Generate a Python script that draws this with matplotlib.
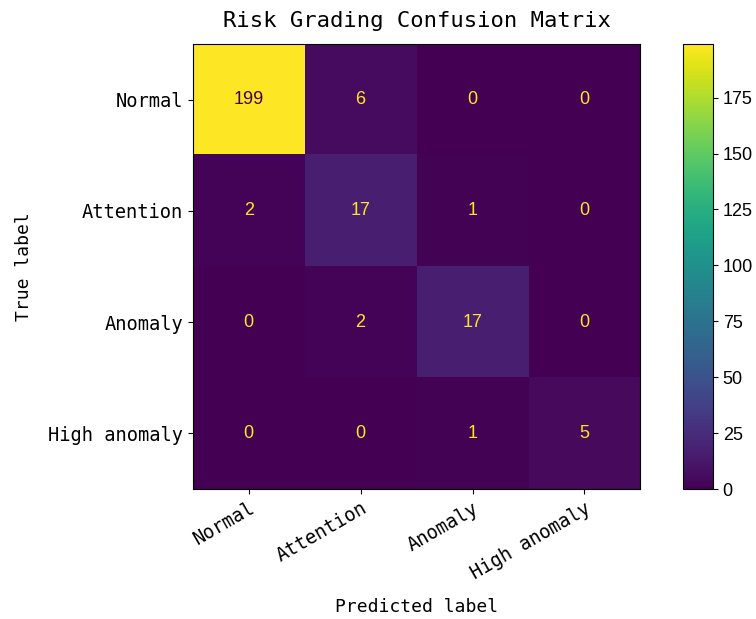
import numpy as np
import matplotlib.pyplot as plt

classes = ["Normal", "Attention", "Anomaly", "High anomaly"]
cm = np.array([
    [199, 6, 0, 0],
    [2, 17, 1, 0],
    [0, 2, 17, 0],
    [0, 0, 1, 5],
])
cbar_ticks = [0, 25, 50, 75, 100, 125, 150, 175]

mono = ["DejaVu Sans Mono"]
cmap = plt.get_cmap("viridis")

fig = plt.figure(figsize=(7.56, 6.19), dpi=100)
ax = fig.add_axes([0.255, 0.210, 0.592, 0.719])
cax = fig.add_axes([0.903, 0.210, 0.040, 0.719])

im = ax.imshow(cm, cmap=cmap, interpolation="nearest", aspect="auto")
cb = fig.colorbar(im, cax=cax)
cb.set_ticks(cbar_ticks)
cb.ax.set_yticklabels([str(t) for t in cbar_ticks], fontsize=13,
                      family="Liberation Sans")

# sklearn-style text colours: dark on bright cells, bright on dark cells
thresh = (cm.max() + cm.min()) / 2.0
for i in range(cm.shape[0]):
    for j in range(cm.shape[1]):
        color = cmap(0) if cm[i, j] > thresh else cmap(256)
        ax.text(j, i, str(cm[i, j]), ha="center", va="center",
                color=color, fontsize=13, family="Liberation Sans")

ax.set_xticks(range(len(classes)))
ax.set_yticks(range(len(classes)))
ax.set_xticklabels(classes, rotation=30, ha="right", rotation_mode="anchor",
                   fontsize=13.5, family=mono)
ax.set_yticklabels(classes, fontsize=13.5, family=mono)
ax.set_xlabel("Predicted label", fontsize=13, family=mono, labelpad=11)
ax.set_ylabel("True label", fontsize=13, family=mono, labelpad=11)
ax.set_title("Risk Grading Confusion Matrix", fontsize=16, family=mono, pad=12)

fig.savefig("out.png", dpi=100)
